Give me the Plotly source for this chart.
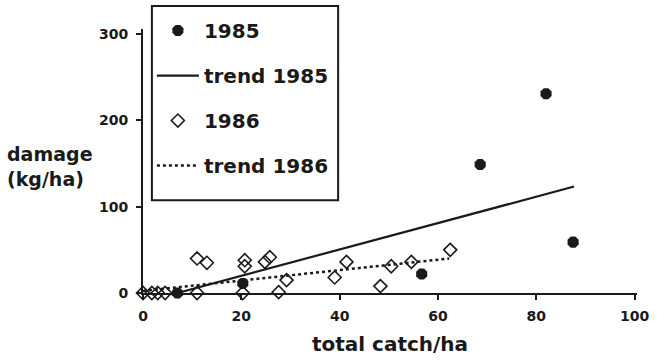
import plotly.graph_objects as go

# 1985 observations (filled)
x1985 = [7, 20.3, 56.7, 68.6, 82.0, 87.5]
y1985 = [0, 11, 22, 149, 231, 59]
# 1986 observations (open)
x1986 = [0, 1.8, 3.0, 4.5, 11, 11, 13, 20.3, 20.7, 20.7, 24.8, 25.8, 27.6, 29.2, 39, 41.4, 48.3, 50.5, 54.6, 62.5]
y1986 = [0, 0, 0, 0, 0, 40, 35, 0, 31, 38, 36, 41.5, 1, 15, 18, 36, 8, 31, 36, 50]
# trend lines (end points)
trend85_x = [7, 87.7]
trend85_y = [0, 123.4]
trend86_x = [0, 62.3]
trend86_y = [2.4, 40]

x_ticks = [0, 20, 40, 60, 80, 100]
y_ticks = [0, 100, 200, 300]

FONT = "DejaVu Sans"
INK = "#1a1a1a"

def bold(s):
    return "<b>" + s + "</b>"

fig = go.Figure()
fig.add_trace(go.Scatter(x=x1985, y=y1985, mode="markers", name=bold("1985"),
                         legendgroup="a",
                         marker=dict(symbol="octagon", size=12, color=INK, line=dict(width=0)),
                         cliponaxis=False))
fig.add_trace(go.Scatter(x=trend85_x, y=trend85_y, mode="lines", name=bold("trend 1985"),
                         legendgroup="b",
                         line=dict(color=INK, width=2.2), cliponaxis=False))
fig.add_trace(go.Scatter(x=x1986, y=y1986, mode="markers", name=bold("1986"),
                         legendgroup="c",
                         marker=dict(symbol="diamond-open", size=10, color=INK, line=dict(width=1.6, color=INK)),
                         cliponaxis=False))
fig.add_trace(go.Scatter(x=trend86_x, y=trend86_y, mode="lines", name=bold("trend 1986"),
                         legendgroup="d",
                         line=dict(color=INK, width=2.5, dash="dot"), cliponaxis=False))

fig.update_layout(
    width=672, height=360,
    margin=dict(l=143, r=35, t=28, b=67),
    paper_bgcolor="white", plot_bgcolor="white",
    font=dict(family=FONT, color=INK, size=15),
    showlegend=True,
    legend=dict(x=0.018, y=1.064, xanchor="left", yanchor="top",
                borderwidth=0, bgcolor="rgba(0,0,0,0)",
                font=dict(size=20, family=FONT, color=INK),
                tracegroupgap=16, itemwidth=42),
    shapes=[dict(type="rect", xref="paper", yref="paper",
                 x0=0.018, x1=0.395, y0=0.351, y1=1.087,
                 line=dict(color=INK, width=2), fillcolor="rgba(0,0,0,0)", layer="above")],
    xaxis=dict(range=[0, 100.5], tickvals=x_ticks, showgrid=False, zeroline=False,
               showline=True, linecolor=INK, linewidth=2, automargin=False,
               ticks="outside", ticklen=5, tickwidth=2, tickcolor=INK,
               ticklabelstandoff=4,
               tickfont=dict(size=14, family=FONT, color=INK, weight="bold"),
               title=dict(text=bold("total catch/ha"), font=dict(size=20, family=FONT, color=INK), standoff=14)),
    yaxis=dict(range=[0, 306], tickvals=y_ticks, showgrid=False, zeroline=False,
               showline=True, linecolor=INK, linewidth=2, automargin=False,
               ticks="outside", ticklen=5, tickwidth=2, tickcolor=INK,
               ticklabelstandoff=5,
               tickfont=dict(size=14, family=FONT, color=INK, weight="bold")),
    annotations=[dict(text=bold("damage<br>(kg/ha)"), xref="paper", yref="paper",
                      x=-0.279, y=0.48, xanchor="left", yanchor="middle",
                      showarrow=False, align="left",
                      font=dict(size=19, family=FONT, color=INK))],
)

fig.write_html("out.html")
